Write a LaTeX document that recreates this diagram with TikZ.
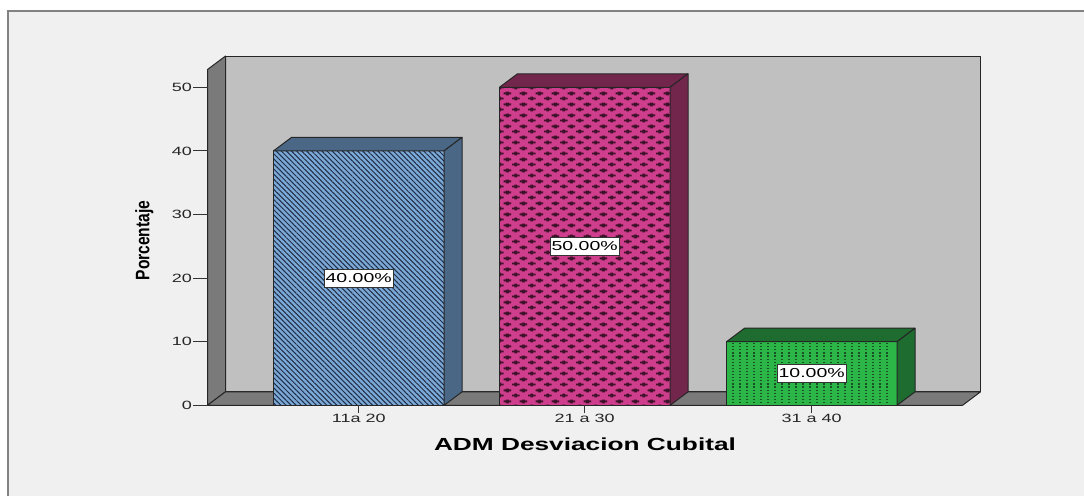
\documentclass[tikz,border=0pt]{standalone}
\usepackage{fontspec}
\setmainfont{Liberation Sans}
\usetikzlibrary{patterns, patterns.meta}

\definecolor{panelbg}{RGB}{240,240,240}
\definecolor{framegray}{RGB}{130,130,130}
\definecolor{backwall}{RGB}{192,192,192}
\definecolor{sidewall}{RGB}{122,122,122}
\definecolor{bluefront}{RGB}{124,168,214}
\definecolor{blueside}{RGB}{74,104,134}
\definecolor{bluehatch}{RGB}{30,45,70}
\definecolor{pinkfront}{RGB}{206,62,140}
\definecolor{pinkside}{RGB}{114,38,76}
\definecolor{pinkhatch}{RGB}{62,18,42}
\definecolor{greenfront}{RGB}{44,182,72}
\definecolor{greenside}{RGB}{30,108,48}
\definecolor{greendots}{RGB}{24,80,36}

\tikzdeclarepattern{
  name=pluslattice, type=uncolored,
  bounding box={(0pt,0pt) and (16pt,11pt)},
  tile size={(16pt,11pt)},
  code={
    \fill (0pt,1.75pt) rectangle (8pt,3.75pt);
    \fill (2.5pt,0.75pt) rectangle (5.5pt,4.75pt);
    \fill (8pt,7.25pt) rectangle (16pt,9.25pt);
    \fill (10.5pt,6.25pt) rectangle (13.5pt,10.25pt);
  }
}

\newcommand{\wide}[1]{\scalebox{1.5}[1]{#1}}

\begin{document}
\begin{tikzpicture}[x=1pt, y=-1pt,
  edge/.style={draw=black!85, line width=1pt, line join=round},
  ticklabel/.style={font=\fontsize{12}{14}\selectfont, text=black!85, inner sep=1pt},
  barlabel/.style={draw=black!80, fill=white, line width=0.8pt, font=\fontsize{13}{15}\selectfont, inner sep=1.5pt, minimum height=18pt}]

\useasboundingbox (0,0) rectangle (1084,496);
\fill[white] (0,0) rectangle (1084,496);
\fill[panelbg] (8,11) rectangle (1084,496);
\draw[framegray, line width=1.5pt] (8,496) -- (8,11) -- (1084,11);

% walls and floor
\draw[edge, fill=backwall] (225.5,56) rectangle (980.5,391.8);
\draw[edge, fill=sidewall] (207.5,405.3) -- (207.5,69.5) -- (225.5,56) -- (225.5,391.8) -- cycle;
\draw[edge, fill=sidewall] (207.5,405.3) -- (225.5,391.8) -- (980.5,391.8) -- (962.5,405.3) -- cycle;

% bar 11a 20
\fill[bluefront] (273.5,150.9) rectangle (444,405.3);
\fill[pattern={Lines[angle=-45, distance=3.6pt, line width=1pt]}, pattern color=bluehatch] (273.5,150.9) rectangle (444,405.3);
\draw[edge] (273.5,150.9) rectangle (444,405.3);
\draw[edge, fill=blueside] (273.5,150.9) -- (291.5,137.4) -- (462,137.4) -- (444,150.9) -- cycle;
\draw[edge, fill=blueside] (444,150.9) -- (462,137.4) -- (462,391.8) -- (444,405.3) -- cycle;

% bar 21 a 30
\fill[pinkfront] (499.5,87.3) rectangle (670,405.3);
\fill[pattern=pluslattice, pattern color=pinkhatch] (499.5,87.3) rectangle (670,405.3);
\draw[edge] (499.5,87.3) rectangle (670,405.3);
\draw[edge, fill=pinkside] (499.5,87.3) -- (517.5,73.8) -- (688,73.8) -- (670,87.3) -- cycle;
\draw[edge, fill=pinkside] (670,87.3) -- (688,73.8) -- (688,391.8) -- (670,405.3) -- cycle;

% bar 31 a 40
\fill[greenfront] (726.5,341.7) rectangle (897,405.3);
\foreach \x in {733,740,...,893}
  \draw[greendots, line width=1.1pt, dash pattern=on 1.2pt off 1.9pt] (\x,343) -- (\x,404.5);
\draw[edge] (726.5,341.7) rectangle (897,405.3);
\draw[edge, fill=greenside] (726.5,341.7) -- (744.5,328.2) -- (915,328.2) -- (897,341.7) -- cycle;
\draw[edge, fill=greenside] (897,341.7) -- (915,328.2) -- (915,391.8) -- (897,405.3) -- cycle;

% value boxes
\node[barlabel] (v1) at (358.7,278.3) {\wide{40.00\%}};
\node[barlabel] (v2) at (584.7,246.3) {\wide{50.00\%}};
\node[barlabel] (v3) at (811.7,373.5) {\wide{10.00\%}};

% y axis
\node[ticklabel, anchor=east] (y0) at (193,405.3) {\wide{0}};
\node[ticklabel, anchor=east] (y10) at (193,341.7) {\wide{10}};
\node[ticklabel, anchor=east] (y20) at (193,278.1) {\wide{20}};
\node[ticklabel, anchor=east] (y30) at (193,214.5) {\wide{30}};
\node[ticklabel, anchor=east] (y40) at (193,150.9) {\wide{40}};
\node[ticklabel, anchor=east] (y50) at (193,87.3) {\wide{50}};
\draw[black!80, line width=1pt] (y0.east) -- (207.5,405.3);
\draw[black!80, line width=1pt] (y10.east) -- (207.5,341.7);
\draw[black!80, line width=1pt] (y20.east) -- (207.5,278.1);
\draw[black!80, line width=1pt] (y30.east) -- (207.5,214.5);
\draw[black!80, line width=1pt] (y40.east) -- (207.5,150.9);
\draw[black!80, line width=1pt] (y50.east) -- (207.5,87.3);
\node[rotate=90, font=\bfseries\fontsize{19.5}{22}\selectfont] (ytitle) at (144.3,240.5) {\scalebox{0.8}[1]{Porcentaje}};

% x axis
\node[ticklabel, anchor=north] (x1) at (358.7,413) {\wide{11a 20}};
\node[ticklabel, anchor=north] (x2) at (584.7,413) {\wide{21 a 30}};
\node[ticklabel, anchor=north] (x3) at (811.7,413) {\wide{31 a 40}};
\draw[black!80, line width=1pt] (358.7,405.3) -- (x1.north);
\draw[black!80, line width=1pt] (584.7,405.3) -- (x2.north);
\draw[black!80, line width=1pt] (811.7,405.3) -- (x3.north);
\node[font=\bfseries\fontsize{17.5}{20}\selectfont] (xtitle) at (585,444) {\wide{ADM Desviacion Cubital}};
\end{tikzpicture}
\end{document}
